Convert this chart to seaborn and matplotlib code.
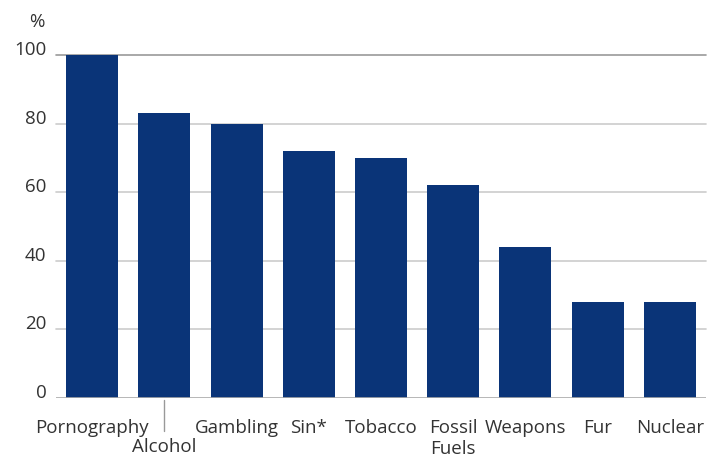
import matplotlib
matplotlib.use("Agg")
import matplotlib.pyplot as plt
import matplotlib.transforms as mtransforms
import seaborn as sns
import pandas as pd

categories = ["Pornography", "Alcohol", "Gambling", "Sin*", "Tobacco",
              "Fossil\nFuels", "Weapons", "Fur", "Nuclear"]
values = [100, 83, 80, 72, 70, 62, 44, 28, 28]
yticks = [0, 20, 40, 60, 80, 100]

sns.set_theme(style="white")
plt.rcParams["font.family"] = ["Open Sans", "DejaVu Sans"]

df = pd.DataFrame({"cat": categories, "val": values})

fig = plt.figure(figsize=(7.16, 4.54), dpi=100)
ax = fig.add_axes([56/716, 1-398/454, 650/716, (398-55)/454])

for y in yticks[1:]:
    ax.axhline(y, color="#9a9a9a" if y == 100 else "#cccccc", lw=1.2, zorder=0, clip_on=False)
ax.axhline(0, color="#aaaaaa", lw=1.2, zorder=3)

sns.barplot(data=df, x="cat", y="val", color="#0a3478", saturation=1,
            width=0.72, ax=ax, zorder=2, linewidth=0)

ax.set_ylim(0, 100)
ax.set_xlim(-0.5, len(categories) - 0.5)
ax.set_xlabel("")
ax.set_ylabel("")
ax.set_yticks(yticks)
ax.set_yticklabels([str(v) for v in yticks])
for s in ax.spines.values():
    s.set_visible(False)

fs = 13.5
ax.tick_params(axis="y", length=0, pad=7, labelsize=fs, labelcolor="#333333")
ax.tick_params(axis="x", length=0, pad=15, labelsize=fs, labelcolor="#333333")
for lbl in ax.get_yticklabels():
    lbl.set_va("baseline")

# Alcohol label shifted down with a leader line
lbls = ax.get_xticklabels()
off = mtransforms.ScaledTranslation(0, -19/100, fig.dpi_scale_trans)
lbls[1].set_transform(lbls[1].get_transform() + off)
trans = mtransforms.blended_transform_factory(ax.transData, ax.transAxes)
ax.plot([1, 1], [-2/343, -33/343], transform=trans, color="#999999", lw=1, clip_on=False)

fig.text(37/716, 1-22/454, "%", ha="center", va="center", fontsize=fs, color="#333333")

fig.savefig("out.png", dpi=100, facecolor="white")
